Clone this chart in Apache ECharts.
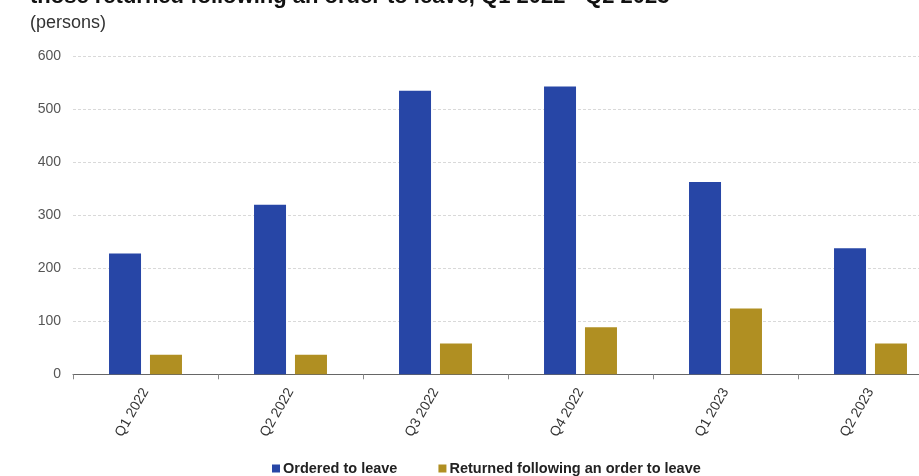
<!DOCTYPE html>
<html><head><meta charset="utf-8">
<script src="https://cdn.jsdelivr.net/npm/echarts@6/dist/echarts.min.js"></script>
<style>html,body{margin:0;padding:0;background:#fff;overflow:hidden}#c{width:960px;height:476px}</style>
</head><body><div id="c"></div>
<script>
const categories = ["Q1 2022","Q2 2022","Q3 2022","Q4 2022","Q1 2023","Q2 2023"];
const orderedToLeave = [228, 320, 535, 543, 363, 238];
const returnedFollowingOrder = [37, 37, 58, 89, 124, 58];
const yTicks = [0, 100, 200, 300, 400, 500, 600];
const seriesNames = ["Ordered to leave", "Returned following an order to leave"];

const chart = echarts.init(document.getElementById('c'), null, {renderer:'canvas'});
chart.setOption({
  animation: false,
  backgroundColor: '#fff',
  title: [
    {text: 'those returned following an order to leave, Q1 2022 - Q2 2023', left: 30, top: -14, padding: 0,
     textStyle: {fontFamily: 'Liberation Sans, Arial', fontSize: 22, fontWeight: 'bold', color: '#111'}},
    {text: '(persons)', left: 30, top: 14, padding: 0,
     textStyle: {fontFamily: 'Liberation Sans, Arial', fontSize: 18, fontWeight: 'normal', color: '#333'}}
  ],
  legend: {
    data: seriesNames, top: 461, left: 272, padding: 0, itemWidth: 8, itemHeight: 8, itemGap: 41,
    icon: 'rect',
    textStyle: {fontFamily: 'Liberation Sans, Arial', fontSize: 14.5, fontWeight: 'bold', color: '#222', padding: [0,0,0,-2]}
  },
  grid: {left: 73, top: 56.3, width: 870, height: 318, containLabel: false},
  xAxis: {
    type: 'category', data: categories,
    axisLine: {lineStyle: {color: '#666', width: 1}},
    axisTick: {show: true, length: 5, lineStyle: {color: '#888'}},
    axisLabel: {rotate: 60, fontFamily: 'Liberation Sans, Arial', fontSize: 14, color: '#333', margin: 15}
  },
  yAxis: {
    type: 'value', min: yTicks[0], max: yTicks[yTicks.length-1], interval: 100,
    axisLine: {show: false}, axisTick: {show: false},
    axisLabel: {fontFamily: 'Liberation Sans, Arial', fontSize: 14, color: '#555', margin: 12},
    splitLine: {lineStyle: {color: '#d9d9d9', type: [3, 2], width: 1}}
  },
  series: [
    {name: seriesNames[0], type: 'bar', data: orderedToLeave, barWidth: 32, barGap: '28%',
     itemStyle: {color: '#2746A6'}},
    {name: seriesNames[1], type: 'bar', data: returnedFollowingOrder, barWidth: 32, barGap: '28%',
     itemStyle: {color: '#B08F22'}}
  ]
});
</script></body></html>
